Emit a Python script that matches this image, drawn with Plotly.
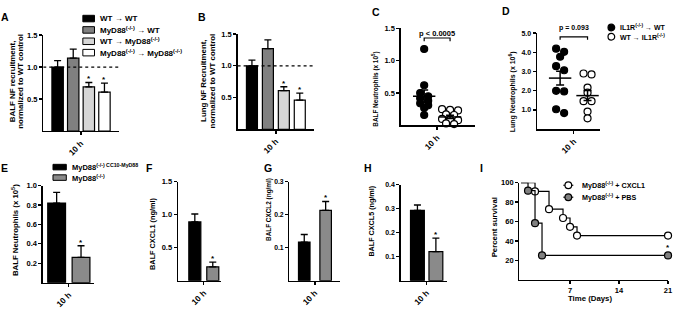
import plotly.graph_objects as go

W, H = 677, 309
FONT = "Liberation Sans"
BLACK = "#000000"

# ---------------- data ----------------
time_label = "10 h"

# A / B: NF recruitment normalised to WT control (mean, SEM)
ab_groups = ["WT → WT", "MyD88<sup>(-/-)</sup> → WT",
             "WT → MyD88<sup>(-/-)</sup>", "MyD88<sup>(-/-)</sup> → MyD88<sup>(-/-)</sup>"]
a_mean = [1.00, 1.14, 0.69, 0.61]
a_sem = [0.10, 0.14, 0.07, 0.14]
b_mean = [1.00, 1.27, 0.61, 0.46]
b_sem = [0.09, 0.14, 0.06, 0.11]
ab_sig = [False, False, True, True]

# C: BALF neutrophils (x10^5), individual mice
c_filled = [1.18, 0.62, 0.50, 0.45, 0.42, 0.38, 0.34, 0.31, 0.27, 0.16]
c_open = [0.25, 0.24, 0.23, 0.17, 0.16, 0.10, 0.09, 0.08, 0.03, 0.02]
c_mean = [0.45, 0.13]
c_sem = [0.095, 0.025]
c_p = "p < 0.0005"

# D: lung neutrophils (x10^6), individual mice
d_groups = ["IL1R<sup>(-/-)</sup> → WT", "WT → IL1R<sup>(-/-)</sup>"]
d_filled = [4.19, 4.03, 3.77, 3.28, 3.07, 2.00, 1.97, 1.04, 0.84]
d_open = [2.90, 2.85, 2.17, 1.90, 1.46, 1.46, 0.92, 0.57]
d_mean = [2.66, 1.75]
d_sem = [0.36, 0.26]
d_p = "p = 0.093"

# E-H: MyD88 CC10 rescue
eh_groups = ["MyD88<sup>(-/-) CC10-MyD88</sup>", "MyD88<sup>(-/-)</sup>"]
e_mean = [0.82, 0.26]
e_sem = [0.11, 0.12]
f_mean = [0.89, 0.21]
f_sem = [0.12, 0.07]
g_mean = [0.117, 0.213]
g_sem = [0.023, 0.027]
h_mean = [0.293, 0.121]
h_sem = [0.022, 0.056]
eh_sig = [False, True]

# I: survival
i_groups = ["MyD88<sup>(-/-)</sup> + CXCL1", "MyD88<sup>(-/-)</sup> + PBS"]
i_cxcl1_days = [0, 2, 4, 6, 7, 8, 21]
i_cxcl1_surv = [100, 90.9, 72.7, 63.6, 54.5, 45.5, 45.5]
i_pbs_days = [0, 1, 2, 3, 21]
i_pbs_surv = [100, 91.7, 58.3, 25.0, 25.0]
i_sig = "*"

# ---------------- styling ----------------
AB_COLORS = ["#000000", "#808080", "#d6d6d6", "#ffffff"]
EH_COLORS = ["#000000", "#8a8a8a"]
SC_FILLS = ["#000000", "#ffffff"]
I_FILLS = ["#ffffff", "#808080"]
DOT = 7
XLAB_SIZE = 8.3

fig = go.Figure()
layout_axes = {}
annotations = []
shapes = []


def fx(p):
    return p / W


def fy(p):
    return 1 - p / H


def font(size):
    return dict(family=FONT, size=size, color=BLACK, weight=700)


def add_axes(idx, box, xr, yr, xtv, xtt, ytv, yfmt, tfs, xangle=-45, xfs=XLAB_SIZE):
    l, r, t, b = box
    sx = "" if idx == 1 else str(idx)
    common = dict(showline=True, linecolor=BLACK, linewidth=1.3, ticks="outside",
                  ticklen=3, tickwidth=1.3, tickcolor=BLACK, showgrid=False,
                  zeroline=False, fixedrange=True)
    layout_axes["xaxis" + sx] = dict(common, domain=[fx(l), fx(r)], range=xr,
                                     anchor="y" + sx, tickmode="array", tickvals=xtv,
                                     ticktext=xtt, tickangle=xangle, tickfont=font(xfs))
    layout_axes["yaxis" + sx] = dict(common, domain=[fy(b), fy(t)], range=yr,
                                     anchor="x" + sx, tickmode="array", tickvals=ytv,
                                     tickformat=yfmt, tickfont=font(tfs))
    return "x" + sx, "y" + sx


def star(xa, ya, x, y, size=8, shift=-3):
    annotations.append(dict(text="*", x=x, y=y, xref=xa, yref=ya, showarrow=False,
                            xanchor="center", yanchor="bottom", yshift=shift,
                            font=font(size)))


def bar_panel(idx, box, means, sems, colors, width, xr, yr, ytv, yfmt, sig, tfs):
    pos = list(range(len(means)))
    center = sum(pos) / len(pos)
    xa, ya = add_axes(idx, box, xr, yr, [center], [time_label], ytv, yfmt, tfs)
    fig.add_trace(go.Bar(x=pos, y=means, width=width, xaxis=xa, yaxis=ya,
                         marker=dict(color=colors, line=dict(color=BLACK, width=1.2)),
                         error_y=dict(type="data", array=sems, arrayminus=[0] * len(sems),
                                      symmetric=False, color=BLACK, thickness=1.3, width=3.5),
                         showlegend=False, hoverinfo="skip"))
    for i, s in enumerate(sig):
        if s:
            star(xa, ya, pos[i], means[i] + sems[i])
    return xa, ya


def swarm(vals, center, ppx, ppy, d):
    order = sorted(range(len(vals)), key=lambda i: -vals[i])
    rows = []
    for i in order:
        if rows and (vals[rows[-1][0]] - vals[i]) * ppy < 0.65 * d:
            rows[-1].append(i)
        else:
            rows.append([i])
    xs = [center] * len(vals)
    for row in rows:
        k = len(row)
        for j, i in enumerate(row):
            xs[i] = center + (j - (k - 1) / 2) * d * 1.15 / ppx
    return xs


def scatter_panel(idx, box, xr, yr, ytv, yfmt, groups, means, sems, ptext, pbr, tfs, pfs, pshift):
    xa, ya = add_axes(idx, box, xr, yr, [0.5], [time_label], ytv, yfmt, tfs)
    l, r, t, b = box
    ppx = (r - l) / (xr[1] - xr[0])
    ppy = (b - t) / (yr[1] - yr[0])
    for gi, vals in enumerate(groups):
        xs = swarm(vals, gi, ppx, ppy, DOT)
        fig.add_trace(go.Scatter(x=xs, y=vals, mode="markers", xaxis=xa, yaxis=ya,
                                 marker=dict(size=DOT, color=SC_FILLS[gi],
                                             line=dict(color=BLACK, width=1.2)),
                                 cliponaxis=False, showlegend=False, hoverinfo="skip"))
    fig.add_trace(go.Scatter(x=list(range(len(means))), y=means, mode="markers",
                             xaxis=xa, yaxis=ya,
                             marker=dict(symbol="line-ew", size=16, color=BLACK,
                                         line=dict(color=BLACK, width=1.5)),
                             error_y=dict(type="data", array=sems, color=BLACK,
                                          thickness=1.5, width=4),
                             cliponaxis=False, showlegend=False, hoverinfo="skip"))
    y_top, y_leg = pbr
    fig.add_trace(go.Scatter(x=[0, 0, 1, 1], y=[y_leg, y_top, y_top, y_leg], mode="lines",
                             xaxis=xa, yaxis=ya, line=dict(color=BLACK, width=1.2),
                             showlegend=False, hoverinfo="skip"))
    annotations.append(dict(text=ptext, x=0.5, y=y_top, xref=xa, yref=ya, showarrow=False,
                            xanchor="center", yanchor="bottom", yshift=pshift, font=font(pfs)))


def ytitle(lines, cx, cy, size, spacing=8.6):
    n = len(lines)
    for k, line in enumerate(lines):
        x = cx + (k - (n - 1) / 2) * spacing
        annotations.append(dict(text=line, x=fx(x), y=fy(cy), xref="paper", yref="paper",
                                textangle=-90, showarrow=False, xanchor="center",
                                yanchor="middle", font=font(size)))


def label(text, x, y, size, xanchor="center"):
    annotations.append(dict(text=text, x=fx(x), y=fy(y), xref="paper", yref="paper",
                            showarrow=False, xanchor=xanchor, yanchor="middle",
                            font=font(size)))


def legend_rect(cx, cy, w, h, color):
    shapes.append(dict(type="rect", xref="paper", yref="paper",
                       x0=fx(cx - w / 2), x1=fx(cx + w / 2), y0=fy(cy + h / 2), y1=fy(cy - h / 2),
                       fillcolor=color, line=dict(color=BLACK, width=1)))


def legend_dot(cx, cy, d, color):
    shapes.append(dict(type="circle", xref="paper", yref="paper", xsizemode="pixel",
                       ysizemode="pixel", xanchor=fx(cx), yanchor=fy(cy),
                       x0=-d / 2, x1=d / 2, y0=-d / 2, y1=d / 2,
                       fillcolor=color, line=dict(color=BLACK, width=1.2)))


def legend_line(x0, x1, cy):
    shapes.append(dict(type="line", xref="paper", yref="paper", x0=fx(x0), x1=fx(x1),
                       y0=fy(cy), y1=fy(cy), line=dict(color=BLACK, width=1.2)))


# ---------------- panel A ----------------
xa, ya = bar_panel(1, (43.5, 120, 32, 131), a_mean, a_sem, AB_COLORS, 0.73,
                   [-0.92, 3.95], [0, 1.5], [0.5, 1.0, 1.5], ".1f", ab_sig, 7.5)
shapes.append(dict(type="line", xref=xa, yref=ya, x0=-0.92, x1=3.95, y0=1.0, y1=1.0,
                   line=dict(color=BLACK, width=1.3, dash="dot")))
ytitle(["BALF NF recruitment,", "normalized to WT control"], 16.9, 80, 7.9)
for k, (g, c) in enumerate(zip(ab_groups, AB_COLORS)):
    legend_rect(89.2, 15 + 11.7 * k, 11.7, 6.7, c)
    label(g, 99, 15 + 11.7 * k, 8, "left")
label("A", 5, 13, 10.5)

# ---------------- panel B ----------------
xa, ya = bar_panel(2, (239, 316, 31, 129), b_mean, b_sem, AB_COLORS, 0.69,
                   [-0.9, 3.9], [0, 1.5], [0.5, 1.0, 1.5], ".1f", ab_sig, 7.5)
shapes.append(dict(type="line", xref=xa, yref=ya, x0=-0.9, x1=3.9, y0=1.0, y1=1.0,
                   line=dict(color=BLACK, width=1.3, dash="dot")))
ytitle(["Lung NF Recruitment,", "normalized to WT control"], 209.7, 79, 7.9)
label("B", 203.5, 13.5, 10.5)

# ---------------- panel C ----------------
scatter_panel(3, (403, 478, 25, 125), [-0.91, 1.97], [0, 1.5], [0.5, 1.0, 1.5], ".1f",
              [c_filled, c_open], c_mean, c_sem, c_p, (1.35, 1.30), 7.5, 7.5, -2)
ytitle(["BALF Neutrophils (x 10<sup>5</sup>)"], 377.5, 88, 6.4)
label("C", 378, 8, 10.5)

# ---------------- panel D ----------------
scatter_panel(4, (540, 604, 30, 129), [-0.85, 1.47], [0, 5], [1, 2, 3, 4, 5], ".1f",
              [d_filled, d_open], d_mean, d_sem, d_p, (4.8, 4.66), 7, 7, 3)
ytitle(["Lung Neutrophils (x 10<sup>6</sup>)"], 515, 90, 7)
for k, (g, c) in enumerate(zip(d_groups, SC_FILLS)):
    legend_dot(615, 24.2 + 9.6 * k, 6.7, c)
    label(g, 621.7, 24.2 + 9.6 * k, 7, "left")
label("D", 509, 7.5, 10.5)

# ---------------- panel E ----------------
bar_panel(5, (43, 95, 187, 287), e_mean, e_sem, EH_COLORS, 0.73,
          [-0.57, 1.55], [0, 1.0], [0.2, 0.4, 0.6, 0.8, 1.0], ".1f", eh_sig, 7.5)
ytitle(["BALF Neutrophils (x 10<sup>5</sup>)"], 15, 233, 7.8)
for k, (g, c) in enumerate(zip(eh_groups, EH_COLORS)):
    legend_rect(60, 168 + 10.8 * k, 13.4, 5.7, c)
    label(g, 70, 168 + 10.8 * k, 7.5, "left")
label("E", 4.5, 168.7, 10.5)

# ---------------- panel F ----------------
bar_panel(6, (179, 222, 183, 285), f_mean, f_sem, EH_COLORS, 0.67,
          [-0.94, 1.44], [0, 1.5], [0.5, 1.0, 1.5], ".1f", eh_sig, 7.5)
ytitle(["BALF CXCL1 (ng/ml)"], 154, 236.7, 7.3)
label("F", 150, 168.7, 10.5)

# ---------------- panel G ----------------
bar_panel(7, (291, 342, 183, 285), g_mean, g_sem, EH_COLORS, 0.54,
          [-0.7, 1.67], [0, 0.3], [0.1, 0.2, 0.3], ".1f", eh_sig, 6.8)
ytitle(["BALF CXCL2 (ng/ml)"], 270, 211.7, 6.4)
label("G", 270, 168.7, 10.5)

# ---------------- panel H ----------------
bar_panel(8, (403, 450, 186, 285), h_mean, h_sem, EH_COLORS, 0.75,
          [-0.91, 1.62], [0, 0.4], [0.1, 0.2, 0.3, 0.4], ".1f", eh_sig, 7)
ytitle(["BALF CXCL5 (ng/ml)"], 373.3, 224, 7.2)
label("H", 370, 168.7, 10.5)

# ---------------- panel I ----------------
xa, ya = add_axes(9, (522.5, 672, 184, 284), [-0.23, 21], [0, 100], [7, 14, 21], ["7", "14", "21"],
                  [20, 40, 60, 80, 100], "d", 7.5, xangle=0, xfs=7.5)
for days, surv, fill in [(i_cxcl1_days, i_cxcl1_surv, I_FILLS[0]),
                         (i_pbs_days, i_pbs_surv, I_FILLS[1])]:
    fig.add_trace(go.Scatter(x=days, y=surv, mode="lines", xaxis=xa, yaxis=ya,
                             line=dict(shape="hv", color=BLACK, width=1.2),
                             showlegend=False, hoverinfo="skip"))
    fig.add_trace(go.Scatter(x=days[1:], y=surv[1:], mode="markers", xaxis=xa, yaxis=ya,
                             marker=dict(size=DOT, color=fill, line=dict(color=BLACK, width=1.2)),
                             cliponaxis=False, showlegend=False, hoverinfo="skip"))
star(xa, ya, i_pbs_days[-1], i_pbs_surv[-1], 8, 1)
ytitle(["Percent survival"], 497, 230, 7.8)
label("Time (Days)", 594, 303.5, 7.8)
for k, (g, c) in enumerate(zip(i_groups, I_FILLS)):
    cy = 186.7 + 12.3 * k
    legend_line(566.7, 576.7, cy)
    legend_dot(571.7, cy, 6.7, c)
    label(g, 583, cy, 7.2, "left")
label("I", 484, 168.7, 10.5)

fig.update_layout(width=W, height=H, margin=dict(l=0, r=0, t=0, b=0),
                  paper_bgcolor="white", plot_bgcolor="rgba(0,0,0,0)",
                  showlegend=False, annotations=annotations, shapes=shapes,
                  **layout_axes)
fig.write_html("out.html", config={"displayModeBar": False, "staticPlot": True},
               post_script="document.body.style.margin='0';document.body.style.padding='0';")
